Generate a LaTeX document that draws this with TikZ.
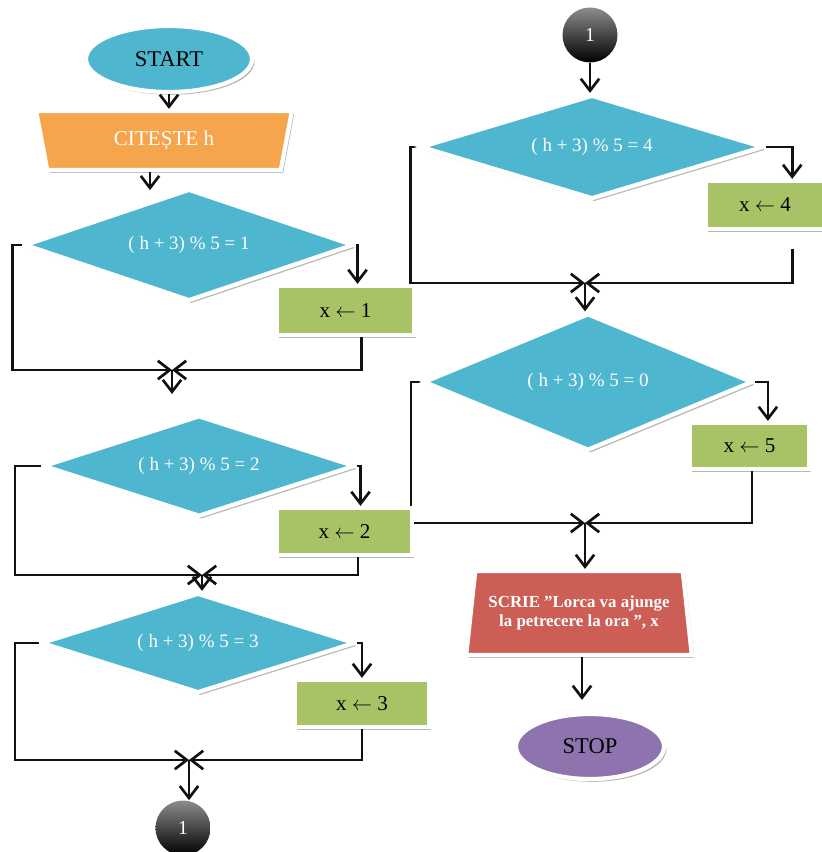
\documentclass[tikz,border=0pt]{standalone}
\usepackage{fontspec}
\setmainfont{Liberation Serif}
\usepackage{tikz}
\usepackage{xcolor}
\usetikzlibrary{arrows.meta,positioning,shapes.geometric,shadows}
\definecolor{TealBlue}{HTML}{4EB6CF}
\definecolor{SoftOrange}{HTML}{F5A54B}
\definecolor{BrickRed}{HTML}{CD5E55}
\definecolor{OliveGreen}{HTML}{A8C366}
\definecolor{Lavender}{HTML}{8E74AF}
\definecolor{InkBlack}{HTML}{111111}
\pgfdeclarelayer{behind}
\pgfsetlayers{behind,main}
\tikzset{
  softshadow/.style={drop shadow={shadow xshift=0.6mm, shadow yshift=-0.7mm, opacity=0.28, fill=black}},
  terminal/.style={ellipse, draw=white, line width=3pt, softshadow, inner sep=0pt, text=black, font=\fontsize{16}{19}\selectfont},
  readbox/.style={trapezium, trapezium stretches=true, shape border rotate=180, trapezium left angle=76, trapezium right angle=76, draw=white, line width=3pt, fill=SoftOrange, softshadow, inner sep=0pt, text=white, font=\fontsize{15}{18}\selectfont},
  writebox/.style={trapezium, trapezium stretches=true, trapezium left angle=77, trapezium right angle=77, draw=white, line width=3pt, fill=BrickRed, softshadow, inner sep=0pt, align=center, text=white, font=\bfseries\fontsize{12}{13.5}\selectfont},
  decision/.style={diamond, aspect=3, draw=white, line width=3pt, fill=TealBlue, softshadow, inner sep=0pt, text=white, font=\fontsize{13.5}{16}\selectfont},
  assignbox/.style={rectangle, draw=white, line width=3pt, fill=OliveGreen, softshadow, inner sep=0pt, text=black, font=\fontsize{15}{18}\selectfont},
  joint/.style={circle, minimum size=1.375cm, inner sep=0pt, top color=black!45, bottom color=black, text=white, font=\fontsize{14}{16}\selectfont},
  arrow/.style={-{Straight Barb[length=3mm, width=4.6mm]}, line width=1.9pt, draw=InkBlack},
  link/.style={line width=1.9pt, draw=InkBlack}
}
\begin{document}
\begin{tikzpicture}[x=0.025cm, y=-0.025cm]
\useasboundingbox (0,0) rectangle (821,852);
\node[terminal, fill=TealBlue, minimum width=4.15cm, minimum height=1.65cm] (start) at (169,59) {START};
\node[readbox, minimum width=6.4cm, minimum height=1.475cm] (read) at (164,140.5) {CITEȘTE h};
\node[decision, minimum width=8.225cm, minimum height=2.8cm] (d1) at (189,245) {( h + 3) \% 5 = 1};
\node[assignbox, minimum width=3.425cm, minimum height=1.225cm] (b1) at (345.5,310.5) {x $\leftarrow$ 1};
\node[decision, minimum width=7.8cm, minimum height=2.525cm] (d2) at (199,466) {( h + 3) \% 5 = 2};
\node[assignbox, minimum width=3.375cm, minimum height=1.175cm] (b2) at (344.5,531.5) {x $\leftarrow$ 2};
\node[decision, minimum width=7.85cm, minimum height=2.5cm] (d3) at (198,643) {( h + 3) \% 5 = 3};
\node[assignbox, minimum width=3.35cm, minimum height=1.175cm] (b3) at (362,703.5) {x $\leftarrow$ 3};
\node[joint] (c1) at (183,828) {1};
\node[joint] (c2) at (590,35) {1};
\node[decision, minimum width=8.575cm, minimum height=2.6cm] (d4) at (592,147) {( h + 3) \% 5 = 4};
\node[assignbox, minimum width=2.95cm, minimum height=1.2cm] (b4) at (765,205) {x $\leftarrow$ 4};
\node[decision, minimum width=8.225cm, minimum height=3.425cm] (d5) at (588,382) {( h + 3) \% 5 = 0};
\node[assignbox, minimum width=2.975cm, minimum height=1.15cm] (b5) at (749.5,446) {x $\leftarrow$ 5};
\node[writebox, minimum width=5.65cm, minimum height=2.1cm] (write) at (579,613) {SCRIE ”Lorca va ajunge\\la petrecere la ora ”, x};
\node[terminal, fill=Lavender, minimum width=3.7cm, minimum height=1.625cm] (stop) at (590,746.5) {STOP};
\coordinate (m1) at (172,370);
\coordinate (m2) at (202,575);
\coordinate (m3) at (189,760);
\coordinate (m4) at (585,283);
\coordinate (m5) at (585,523);
\draw[arrow] (start) -- (start |- read.north);
\draw[arrow] ([xshift=-3.5mm]read.south) -- ++(0,18);
\draw[arrow] (d1.west) -- ++(-10,0) |- (m1);
\draw[arrow] (d1.east) -| ([xshift=3mm]b1.north);
\draw[arrow] ([xshift=4mm]b1.south) |- (m1);
\draw[arrow] (m1) -- ++(0,24);
\draw[arrow] (d2.west) -- ++(-26,0) |- (m2);
\draw[arrow] (d2.east) -| ([xshift=4mm]b2.north);
\draw[arrow] ([xshift=3.4mm]b2.south) |- (m2);
\draw[arrow] (m2) -- (m2 |- d3.north);
\draw[arrow] (d3.west) -- ++(-24,0) |- (m3);
\draw[arrow] (d3.east) -| (b3.north);
\draw[arrow] (b3.south) |- (m3);
\draw[arrow] (m3) -- (m3 |- c1.north);
\draw[arrow] (c2) -- (c2 |- d4.north);
\begin{pgfonlayer}{behind}
\draw[arrow] (d4.west) -- ++(-8,0) |- (m4);
\draw[arrow] (d5.west) -- ++(-10.5,0) |- (m5);
\end{pgfonlayer}
\draw[arrow] (d4.east) -| ([xshift=6.8mm]b4.north);
\draw[arrow] ([xshift=6.8mm, yshift=-4.5mm]b4.south) |- (m4);
\draw[arrow] (m4) -- (m4 |- d5.north);
\draw[arrow] (d5.east) -| ([xshift=4.6mm]b5.north);
\draw[arrow] ([xshift=0.6mm]b5.south) |- (m5);
\draw[arrow] (m5) -- (m5 |- write.north);
\draw[arrow, shorten >=3mm] (write.south -| 582,0) -- (stop.north -| 582,0);
\end{tikzpicture}
\end{document}
